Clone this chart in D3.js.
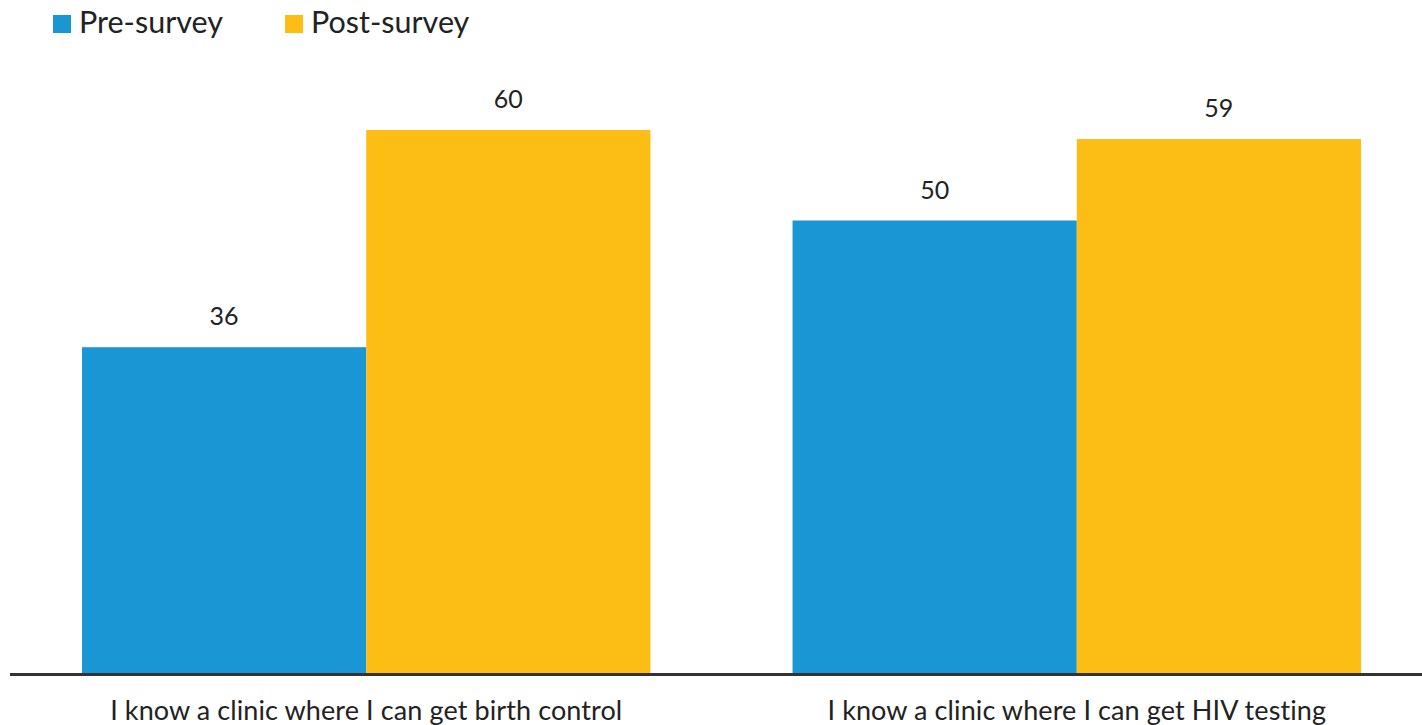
<!DOCTYPE html>
<html><head><meta charset="utf-8">
<script src="https://cdn.jsdelivr.net/npm/d3@7"></script>
<style>html,body{margin:0;padding:0;background:#fff;}svg{display:block;font-family:Lato,"Open Sans",sans-serif;}</style>
</head><body>
<script>
const categories = ["I know a clinic where I can get birth control", "I know a clinic where I can get HIV testing"];
const seriesNames = ["Pre-survey", "Post-survey"];
const preValues = [36, 50];
const postValues = [60, 59];
const colors = ["#1996d3", "#fcbe15"];

const W = 1422, H = 725;
const svg = d3.select("body").append("svg").attr("width", W).attr("height", H);

const x0 = d3.scaleBand().domain(categories).range([82, 1361]).paddingInner(0.2).paddingOuter(0);
const x1 = d3.scaleBand().domain(seriesNames).range([0, x0.bandwidth()]).padding(0);
const y = d3.scaleLinear().domain([0, 60]).range([673, 130]);
const color = d3.scaleOrdinal().domain(seriesNames).range(colors);

const data = categories.map((c, i) => ({cat: c, vals: [
  {s: seriesNames[0], v: preValues[i]},
  {s: seriesNames[1], v: postValues[i]}]}));

const g = svg.selectAll("g.grp").data(data).join("g").attr("class","grp")
  .attr("transform", d => `translate(${x0(d.cat)},0)`);
g.selectAll("rect").data(d => d.vals).join("rect")
  .attr("x", d => x1(d.s)).attr("width", x1.bandwidth())
  .attr("y", d => y(d.v)).attr("height", d => y(0) - y(d.v))
  .attr("fill", d => color(d.s));
g.selectAll("text.val").data(d => d.vals).join("text").attr("class","val")
  .attr("x", d => x1(d.s) + x1.bandwidth()/2)
  .attr("y", d => y(d.v) - 22)
  .attr("text-anchor","middle").attr("font-size", 25).attr("fill","#222")
  .text(d => d.v);

// axis baseline
const xAxis = d3.axisBottom(x0).tickSize(0).tickPadding(0);
const ax = svg.append("g").attr("transform", `translate(0,${y(0)})`).call(xAxis);
ax.select(".domain").remove();
ax.selectAll("text").attr("font-size", 27).attr("fill","#222").attr("dy", null).attr("y", 47)
  .attr("font-family","Lato,sans-serif").attr("letter-spacing", "0.1px");
svg.append("line").attr("x1", 10).attr("x2", W).attr("y1", y(0)+1.5).attr("y2", y(0)+1.5)
  .attr("stroke", "#333").attr("stroke-width", 3);

// legend
const legendX = [53, 285];
const lg = svg.selectAll("g.leg").data(seriesNames).join("g").attr("class","leg")
  .attr("transform", (d,i) => `translate(${legendX[i]},15)`);
lg.append("rect").attr("width", 18).attr("height", 18).attr("fill", d => color(d));
lg.append("text").attr("x", 26).attr("y", 18).attr("font-size", 30.5).attr("fill","#222").text(d => d);
</script>
</body></html>
